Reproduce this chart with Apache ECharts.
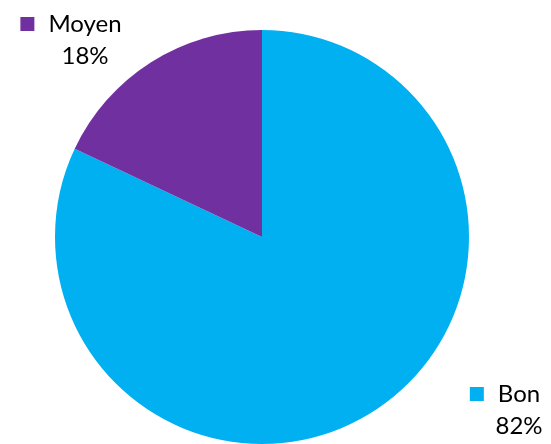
<!DOCTYPE html>
<html>
<head>
<meta charset="utf-8">
<script src="https://cdn.jsdelivr.net/npm/echarts@6/dist/echarts.min.js"></script>
<style>
  html, body { margin: 0; padding: 0; background: #fff; }
  #chart { width: 551px; height: 444px; }
</style>
</head>
<body>
<div id="chart"></div>
<script>
  // données
  var categories = ['Bon', 'Moyen'];
  var values = [82, 18];
  var colors = ['#00B0F0', '#7030A0'];

  // où poser chaque étiquette (centre, haut)
  var labelSpots = [[505, 378], [71, 8]];

  var seriesData = categories.map(function (c, i) {
    return { name: c, value: values[i], itemStyle: { color: colors[i] } };
  });

  var dom = echarts.init(document.getElementById('chart'));
  var option = {
    animation: false,
    series: [
      {
        type: 'pie',
        center: [262, 237],
        radius: 207,
        startAngle: 90,
        clockwise: true,
        data: seriesData,
        itemStyle: { borderWidth: 0 },
        labelLine: { show: false },
        label: {
          show: true,
          position: 'outside',
          align: 'center',
          verticalAlign: 'top',
          fontFamily: 'Lato',
          fontSize: 24,
          color: '#000',
          lineHeight: 32,
          formatter: function (p) {
            return '{sq' + p.dataIndex + '|}{nm|' + p.name + '}\n{pc|' + Math.round(p.percent) + '%}';
          },
          rich: {
            sq0: { backgroundColor: colors[0], width: 14, height: 14, padding: 0 },
            sq1: { backgroundColor: colors[1], width: 14, height: 14, padding: 0 },
            nm: { fontFamily: 'Lato', fontSize: 24, lineHeight: 32, padding: [0, 0, 0, 14] },
            pc: { fontFamily: 'Lato', fontSize: 24, lineHeight: 32, padding: [0, 0, 0, 28] }
          }
        },
        labelLayout: function (params) {
          var s = labelSpots[params.dataIndex];
          return { x: s[0], y: s[1], align: 'center', verticalAlign: 'top' };
        }
      }
    ]
  };
  dom.setOption(option);
</script>
</body>
</html>
